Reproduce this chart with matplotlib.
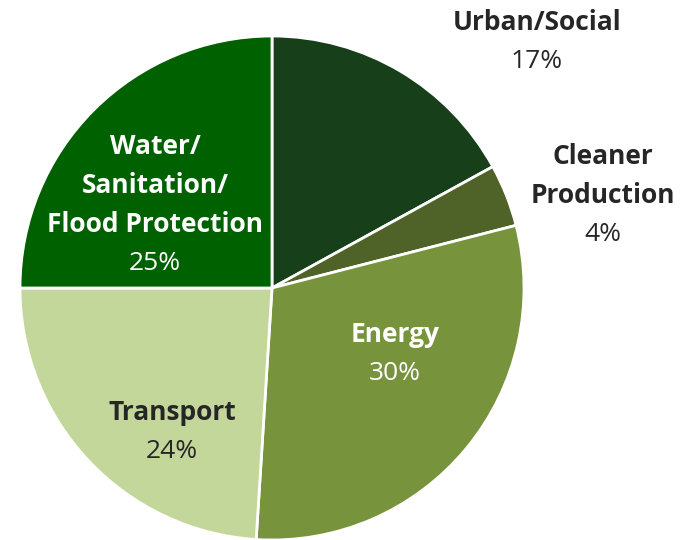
import matplotlib
matplotlib.use("Agg")
import matplotlib.pyplot as plt

categories = ["Urban/Social", "Cleaner\nProduction", "Energy", "Transport", "Water/\nSanitation/\nFlood Protection"]
values = [17, 4, 30, 24, 25]
colors = ["#173f1a", "#4f6228", "#77933c", "#c4d79b", "#006100"]
text_colors = ["#262626", "#262626", "#ffffff", "#262626", "#ffffff"]
# label anchor (x, top y in pixels from top)
label_pos = [(537, 23), (603, 157), (395, 335), (172, 413), (155, 147)]

W, H = 681, 540
fig = plt.figure(figsize=(W / 100, H / 100), dpi=100)
ax = fig.add_axes([0, 0, 1, 1])

cx, cy, r = 272, H - 288, 252
ax.pie(values, colors=colors, startangle=90, counterclock=False,
       center=(cx, cy), radius=r, frame=True,
       wedgeprops=dict(edgecolor="white", linewidth=2))
ax.set_xlim(0, W)
ax.set_ylim(0, H)
ax.set_aspect("equal")
ax.axis("off")

fam = ["Open Sans", "DejaVu Sans"]
fs = 19
lh = 38.8
for cat, v, (x, y), tc in zip(categories, values, label_pos, text_colors):
    lines = cat.split("\n")
    for i, line in enumerate(lines):
        ax.text(x, H - (y + i * lh), line, ha="center", va="center",
                fontsize=fs, fontweight="bold", color=tc, family=fam)
    ax.text(x, H - (y + len(lines) * lh), f"{v}%", ha="center", va="center",
            fontsize=fs, color=tc, family=fam)

fig.savefig("out.png", dpi=100)
